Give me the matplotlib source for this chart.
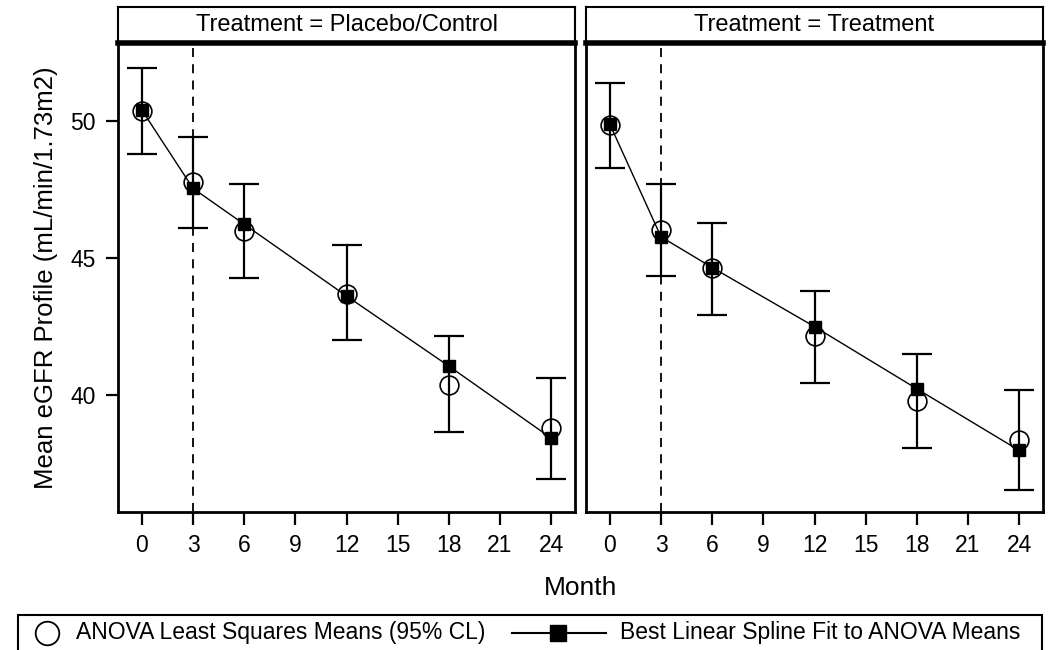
import matplotlib
matplotlib.use('Agg')
from matplotlib import pyplot as plt
from matplotlib.lines import Line2D
from matplotlib.patches import Rectangle

plt.rcParams['font.family'] = ['Liberation Sans', 'DejaVu Sans']

months = [0, 3, 6, 12, 18, 24]
panels = ['Treatment = Placebo/Control', 'Treatment = Treatment']

# ANOVA least squares means and 95% CL
lsm_placebo = [50.35, 47.76, 45.99, 43.70, 40.37, 38.79]
lo_placebo = [48.78, 46.08, 44.27, 42.00, 38.63, 36.93]
hi_placebo = [51.94, 49.43, 47.69, 45.49, 42.15, 40.62]
# linear spline fit
fit_placebo = [50.40, 47.54, 46.23, 43.61, 41.05, 38.42]

lsm_treat = [49.84, 46.01, 44.62, 42.15, 39.77, 38.36]
lo_treat = [48.30, 44.35, 42.91, 40.42, 38.04, 36.53]
hi_treat = [51.39, 47.69, 46.28, 43.80, 41.50, 40.17]
fit_treat = [49.88, 45.77, 44.65, 42.49, 40.22, 37.97]

knot = 3
xticks = [0, 3, 6, 9, 12, 15, 18, 21, 24]
yticks = [40, 45, 50]
legend_labels = ['ANOVA Least Squares Means (95% CL)', 'Best Linear Spline Fit to ANOVA Means']

data = [(lsm_placebo, lo_placebo, hi_placebo, fit_placebo),
        (lsm_treat, lo_treat, hi_treat, fit_treat)]

W, H = 1051, 650
fig = plt.figure(figsize=(W / 100, H / 100), dpi=100)
lefts = [118 / W, 586 / W]
w = 457 / W
bot = (H - 512) / H
h = (512 - 43) / H

for i, (lsm, lo, hi, fit) in enumerate(data):
    ax = fig.add_axes([lefts[i], bot, w, h])
    ax.axvline(knot, color='black', lw=1.3, ls=(0, (5, 4)), zorder=1)
    yerr = [[m - l for m, l in zip(lsm, lo)], [u - m for m, u in zip(lsm, hi)]]
    ax.errorbar(months, lsm, yerr=yerr, fmt='none', ecolor='black',
                elinewidth=1.6, capsize=11, capthick=1.6, zorder=2)
    ax.plot(months, lsm, 'o', ms=13.5, mfc='none', mec='black', mew=1.2, zorder=3)
    ax.plot(months, fit, '-s', color='black', lw=1.0, ms=8.5, zorder=4)
    ax.set_xlim(-1.4, 25.4)
    ax.set_ylim(35.72, 52.85)
    ax.set_xticks(xticks)
    ax.set_yticks(yticks)
    ax.tick_params(direction='out', length=9, width=1.6, labelsize=16.5, pad=7)
    for s in ax.spines.values():
        s.set_linewidth(2)
    if i == 0:
        ax.set_ylabel('Mean eGFR Profile (mL/min/1.73m2)', fontsize=18.5, labelpad=9)
    else:
        ax.tick_params(axis='y', left=False, labelleft=False)

    sax = fig.add_axes([lefts[i], (H - 43) / H, w, 36 / H])
    sax.set_xticks([])
    sax.set_yticks([])
    for s in sax.spines.values():
        s.set_linewidth(1.5)
    sax.spines['bottom'].set_linewidth(4)
    sax.text(0.5, 0.5, panels[i], ha='center', va='center', fontsize=17,
             transform=sax.transAxes)

fig.text(581 / W, 1 - 588 / H, 'Month', ha='center', va='center', fontsize=19)

# legend box (cut at the bottom edge like the original)
ly = 1 - 633 / H
fig.patches.append(Rectangle((18 / W, 1 - 660 / H), 1024 / W, 45 / H,
                             transform=fig.transFigure, fill=False,
                             edgecolor='black', lw=1.5))
fig.add_artist(Line2D([47 / W], [ly], transform=fig.transFigure, ls='none',
                      marker='o', ms=17, mfc='none', mec='black', mew=1.3))
fig.text(76 / W, ly, legend_labels[0], ha='left', va='center', fontsize=16.5)
fig.add_artist(Line2D([512 / W, 606 / W], [ly, ly], transform=fig.transFigure,
                      color='black', lw=1.5))
fig.add_artist(Line2D([558 / W], [ly], transform=fig.transFigure, ls='none',
                      marker='s', ms=12, color='black'))
fig.text(620 / W, ly, legend_labels[1], ha='left', va='center', fontsize=16.5)

fig.savefig('out.png', dpi=100)
